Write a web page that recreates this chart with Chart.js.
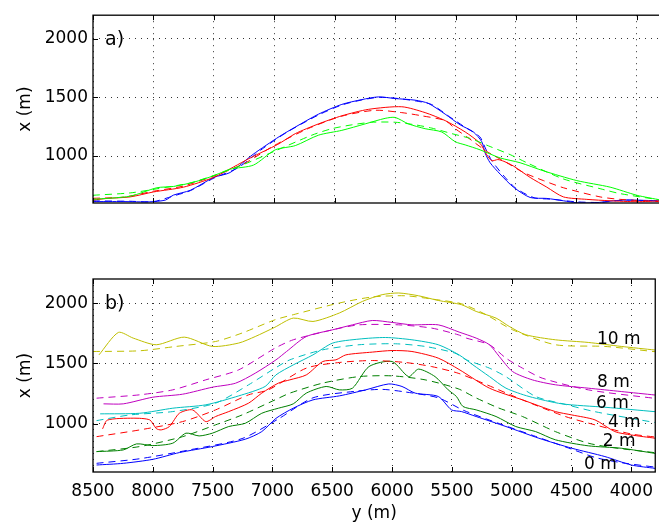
<!DOCTYPE html>
<html>
<head>
<meta charset="utf-8">
<script src="https://cdn.jsdelivr.net/npm/chart.js@4"></script>
<style>
  html, body { margin: 0; padding: 0; background: #fff; overflow: hidden; }
  #wrap { position: relative; width: 659px; height: 524px; overflow: hidden; }
  canvas { position: absolute; left: 0; }
  #top { top: 0; }
  #bot { top: 260px; }
</style>
</head>
<body>
<div id="wrap">
  <canvas id="top" width="662" height="240"></canvas>
  <canvas id="bot" width="662" height="264"></canvas>
</div>
<script>
// ===== tick labels =====
const xTicks = [8500, 8000, 7500, 7000, 6500, 6000, 5500, 5000, 4500, 4000];
const yTicks = [1000, 1500, 2000];

// ===== panel a) : y (m) along axis, x (m) values =====
const aBlueY = [8500, 8250, 8030, 7900, 7835, 7695, 7500, 7365, 7175, 6960, 6826, 6634, 6441, 6275, 6138, 6000, 5834, 5724, 5586, 5462, 5352, 5283, 5255, 5214, 5131, 5021, 4883, 4745, 4608, 4497, 4345, 4194, 4083, 3800];
const aBlueX = [612, 612, 610, 625, 667, 708, 818, 860, 1015, 1165, 1247, 1357, 1440, 1481, 1504, 1490, 1476, 1448, 1357, 1266, 1205, 1122, 1025, 943, 846, 735, 647, 639, 619, 602, 602, 619, 625, 619];
const aBlueDY = [8500, 8200, 8000, 7835, 7695, 7500, 7300, 7100, 6900, 6634, 6441, 6275, 6138, 6000, 5834, 5700, 5550, 5420, 5300, 5250, 5200, 5100, 5000, 4850, 4700, 4500, 4300, 4100, 3800];
const aBlueDX = [618, 615, 612, 660, 705, 812, 900, 1060, 1200, 1350, 1435, 1478, 1500, 1493, 1470, 1440, 1335, 1245, 1165, 1060, 960, 830, 725, 645, 632, 610, 605, 625, 615];

const aRedY = [8500, 8384, 8192, 8000, 7751, 7502, 7337, 7199, 6970, 6826, 6634, 6441, 6220, 5945, 5752, 5586, 5420, 5297, 5241, 5200, 5150, 5100, 5021, 4883, 4745, 4608, 4414, 4221, 4000, 3800];
const aRedX = [625, 639, 652, 694, 735, 818, 907, 984, 1100, 1191, 1274, 1343, 1398, 1420, 1370, 1302, 1205, 1108, 1010, 960, 970, 955, 915, 818, 735, 652, 631, 619, 611, 619];
const aRedDY = [8500, 8250, 8000, 7750, 7500, 7250, 7000, 6717, 6441, 6165, 5945, 5780, 5586, 5503, 5407, 5241, 5076, 4938, 4773, 4608, 4304, 4138, 3800];
const aRedDX = [640, 650, 700, 745, 830, 935, 1090, 1235, 1340, 1390, 1370, 1343, 1302, 1233, 1164, 1039, 943, 860, 791, 730, 652, 631, 611];

const aGreenY = [8500, 8192, 7971, 7833, 7668, 7502, 7365, 7172, 6992, 6826, 6634, 6441, 6248, 6083, 6000, 5890, 5752, 5614, 5503, 5420, 5297, 5131, 4966, 4773, 4497, 4221, 4000, 3800];
const aGreenX = [631, 658, 730, 741, 777, 832, 888, 923, 1053, 1089, 1178, 1219, 1274, 1321, 1329, 1274, 1233, 1205, 1122, 1095, 1053, 984, 943, 874, 791, 735, 666, 625];
const aGreenDY = [8500, 8192, 7971, 7700, 7500, 7250, 7000, 6689, 6524, 6358, 6193, 6000, 5834, 5696, 5531, 5379, 5214, 5048, 4910, 4608, 4304, 4138, 3800];
const aGreenDX = [666, 686, 721, 770, 835, 930, 1040, 1178, 1233, 1266, 1288, 1288, 1266, 1238, 1191, 1150, 1081, 1012, 943, 805, 722, 680, 625];

// ===== panel b) : one solid + one dashed line per level =====
const b10Y = [8450, 8288, 8164, 7971, 7737, 7502, 7282, 7144, 6980, 6826, 6661, 6441, 6248, 6083, 5945, 5779, 5614, 5420, 5297, 5131, 5021, 4883, 4635, 4360, 4084, 3800];
const b10X = [1571, 1757, 1710, 1655, 1718, 1641, 1669, 1723, 1800, 1876, 1848, 1918, 2014, 2070, 2084, 2061, 2022, 1987, 1931, 1876, 1807, 1738, 1696, 1674, 1641, 1611];
const b10DY = [8500, 8109, 7806, 7475, 7254, 6978, 6826, 6441, 6165, 5890, 5669, 5420, 5214, 4993, 4635, 4221, 3800];
const b10DX = [1599, 1605, 1641, 1682, 1752, 1862, 1904, 2001, 2051, 2061, 2034, 1995, 1904, 1779, 1655, 1641, 1597];

const b8Y = [8412, 8247, 8000, 7751, 7502, 7309, 7144, 6970, 6882, 6717, 6496, 6331, 6165, 6000, 5834, 5614, 5440, 5297, 5186, 5104, 4993, 4828, 4635, 4360, 4084, 3800];
const b8X = [1165, 1165, 1220, 1245, 1303, 1336, 1419, 1530, 1599, 1723, 1779, 1820, 1856, 1840, 1820, 1820, 1760, 1710, 1655, 1558, 1433, 1364, 1323, 1295, 1267, 1238];
const b8DY = [8470, 8109, 7833, 7557, 7282, 6978, 6826, 6496, 6276, 5945, 5669, 5448, 5379, 5186, 5048, 4910, 4745, 4360, 3800];
const b8DX = [1212, 1240, 1281, 1364, 1447, 1627, 1696, 1779, 1820, 1820, 1793, 1738, 1710, 1655, 1544, 1461, 1378, 1281, 1210];

const b6Y = [8440, 8109, 7833, 7557, 7282, 7061, 6971, 6826, 6661, 6496, 6276, 6055, 5834, 5614, 5440, 5324, 5186, 5048, 4855, 4580, 4221, 3800];
const b6X = [1082, 1087, 1129, 1157, 1231, 1309, 1405, 1488, 1571, 1669, 1702, 1715, 1696, 1655, 1571, 1488, 1391, 1295, 1226, 1165, 1137, 1100];
const b6DY = [8470, 8192, 7833, 7475, 7199, 6978, 6854, 6579, 6276, 5973, 5724, 5476, 5379, 5186, 5050, 4800, 4550, 4304, 3946, 3800];
const b6DX = [1026, 1073, 1101, 1171, 1323, 1461, 1530, 1613, 1655, 1663, 1641, 1586, 1530, 1461, 1391, 1226, 1160, 1100, 1035, 1010];

const b4Y = [8420, 8380, 8164, 8026, 7971, 7930, 7861, 7778, 7668, 7557, 7475, 7365, 7199, 7089, 6950, 6854, 6717, 6579, 6469, 6386, 6165, 6000, 5834, 5614, 5440, 5186, 4910, 4635, 4497, 4304, 4138, 4000, 3800];
const b4X = [958, 1030, 1046, 1032, 960, 949, 977, 1087, 1115, 1018, 1060, 1101, 1171, 1254, 1337, 1364, 1405, 1516, 1530, 1571, 1594, 1607, 1599, 1544, 1450, 1295, 1198, 1101, 1073, 1032, 935, 907, 880];
const b4DY = [8470, 8109, 7751, 7475, 7199, 7034, 6717, 6441, 6165, 5890, 5669, 5448, 5241, 4910, 4552, 4304, 4000, 3800];
const b4DX = [893, 949, 1018, 1115, 1240, 1281, 1461, 1508, 1524, 1508, 1474, 1419, 1337, 1198, 1060, 991, 915, 890];

const b2Y = [8470, 8247, 8136, 8000, 7833, 7723, 7613, 7502, 7365, 7227, 7089, 6950, 6826, 6717, 6551, 6441, 6331, 6193, 6000, 5862, 5779, 5641, 5531, 5462, 5407, 5297, 5131, 4966, 4800, 4635, 4360, 4084, 3800];
const b2X = [769, 783, 833, 819, 839, 922, 899, 922, 977, 1004, 1087, 1129, 1165, 1254, 1309, 1281, 1295, 1474, 1516, 1391, 1453, 1391, 1281, 1226, 1143, 1115, 1060, 977, 935, 867, 817, 797, 754];
const b2DY = [8470, 8109, 7751, 7475, 7254, 6978, 6854, 6579, 6276, 6000, 5724, 5448, 5300, 5110, 4910, 4635, 4360, 4138, 3800];
const b2DX = [769, 811, 893, 991, 1073, 1198, 1254, 1337, 1391, 1397, 1364, 1290, 1215, 1131, 1060, 935, 839, 800, 760];

const b0Y = [8470, 8247, 8000, 7778, 7502, 7227, 7089, 6970, 6826, 6661, 6441, 6220, 6028, 5917, 5807, 5614, 5503, 5420, 5297, 5048, 4773, 4497, 4221, 4000, 3800];
const b0X = [658, 672, 705, 761, 811, 872, 935, 1045, 1129, 1198, 1231, 1281, 1330, 1309, 1254, 1226, 1115, 1101, 1060, 977, 880, 797, 728, 658, 630];
const b0DY = [8470, 8109, 7695, 7254, 6950, 6661, 6300, 6083, 5900, 5614, 5400, 5100, 4800, 4500, 4300, 4100, 3800];
const b0DX = [672, 710, 783, 877, 1040, 1215, 1270, 1285, 1265, 1215, 1110, 1000, 895, 790, 720, 680, 640];

// level labels (in data units)
const levelNames = ['10 m', '8 m', '6 m', '4 m', '2 m', '0 m'];
const levelAtY = [4287, 4287, 4295, 4196, 4238, 4395];
const levelAtX = [1696, 1339, 1165, 1007, 849, 658];

// ===== helpers =====
const FONT = '"DejaVu Sans", Verdana, sans-serif';
Chart.defaults.font.family = FONT;
Chart.defaults.font.size = 17;
Chart.defaults.color = '#000';

function pts(ys, xs) {
  return ys.map((v, i) => ({ x: v, y: xs[i] }));
}

function line(ys, xs, color, dashed) {
  return {
    data: pts(ys, xs),
    borderColor: color,
    borderWidth: 1,
    borderDash: dashed ? [7, 5] : [],
    pointRadius: 0,
    tension: 0.25,
    fill: false
  };
}

// frame, inward ticks, panel label, level labels
const framePlugin = {
  id: 'frame',
  afterDraw(chart, args, opts) {
    const { ctx, chartArea: a, scales } = chart;
    ctx.save();
    ctx.strokeStyle = '#000';
    ctx.lineWidth = 1.3;
    ctx.strokeRect(a.left, a.top, a.right - a.left, a.bottom - a.top);

    ctx.lineWidth = 1;
    xTicks.forEach(v => {
      const px = Math.round(scales.x.getPixelForValue(v)) + 0.5;
      ctx.beginPath();
      ctx.moveTo(px, a.top); ctx.lineTo(px, a.top + 5);
      ctx.moveTo(px, a.bottom); ctx.lineTo(px, a.bottom - 5);
      ctx.stroke();
    });
    yTicks.forEach(v => {
      const py = Math.round(scales.y.getPixelForValue(v)) + 0.5;
      ctx.beginPath();
      ctx.moveTo(a.left, py); ctx.lineTo(a.left + 5, py);
      ctx.stroke();
    });

    ctx.fillStyle = '#000';
    ctx.textBaseline = 'middle';
    ctx.textAlign = 'left';
    ctx.font = '19px ' + FONT;
    ctx.fillText(opts.label, a.left + 12, a.top + 25);

    if (opts.levels) {
      ctx.font = '17px ' + FONT;
      levelNames.forEach((t, i) => {
        ctx.fillText(t, scales.x.getPixelForValue(levelAtY[i]), scales.y.getPixelForValue(levelAtX[i]));
      });
    }
    ctx.restore();
  }
};

function makeChart(id, datasets, cfg) {
  return new Chart(document.getElementById(id), {
    type: 'line',
    data: { datasets },
    plugins: [framePlugin],
    options: {
      responsive: false,
      animation: false,
      layout: { padding: { top: cfg.padTop, right: 1, left: 0, bottom: 0 } },
      plugins: {
        legend: { display: false },
        tooltip: { enabled: false },
        frame: { label: cfg.label, levels: cfg.levels }
      },
      scales: {
        x: {
          type: 'linear',
          reverse: true,
          min: 3800,
          max: 8500,
          afterBuildTicks: s => { s.ticks = xTicks.map(v => ({ value: v })); },
          afterFit: s => { s.height = cfg.xHeight; },
          grid: { color: '#333', lineWidth: 1, drawTicks: false },
          border: { display: false, dash: [1, 5] },
          ticks: { display: cfg.showX, padding: 9, maxRotation: 0, callback: v => String(v) },
          title: { display: cfg.showX, text: 'y (m)', padding: { top: 2, bottom: 0 } }
        },
        y: {
          min: 600,
          max: 2200,
          afterBuildTicks: s => { s.ticks = yTicks.map(v => ({ value: v })); },
          afterFit: s => { s.width = 93; },
          grid: { color: '#333', lineWidth: 1, drawTicks: false },
          border: { display: false, dash: [1, 5] },
          ticks: { padding: 5, callback: v => String(v) },
          title: { display: true, text: 'x (m)', padding: { top: 15, bottom: 0 } }
        }
      }
    }
  });
}

// ===== panel a) =====
makeChart('top', [
  line(aGreenDY, aGreenDX, '#00ff00', true),
  line(aGreenY, aGreenX, '#00ff00', false),
  line(aRedDY, aRedDX, '#ff0000', true),
  line(aRedY, aRedX, '#ff0000', false),
  line(aBlueDY, aBlueDX, '#0000ff', true),
  line(aBlueY, aBlueX, '#0000ff', false)
], { padTop: 10, xHeight: 37, showX: false, label: 'a)', levels: false });

// ===== panel b) =====
makeChart('bot', [
  line(b10DY, b10DX, '#bfbf00', true),
  line(b10Y, b10X, '#bfbf00', false),
  line(b8DY, b8DX, '#bf00bf', true),
  line(b8Y, b8X, '#bf00bf', false),
  line(b6DY, b6DX, '#00bfbf', true),
  line(b6Y, b6X, '#00bfbf', false),
  line(b4DY, b4DX, '#ff0000', true),
  line(b4Y, b4X, '#ff0000', false),
  line(b2DY, b2DX, '#008000', true),
  line(b2Y, b2X, '#008000', false),
  line(b0DY, b0DX, '#0000ff', true),
  line(b0Y, b0X, '#0000ff', false)
], { padTop: 19, xHeight: 52, showX: true, label: 'b)', levels: true });
</script>
</body>
</html>
